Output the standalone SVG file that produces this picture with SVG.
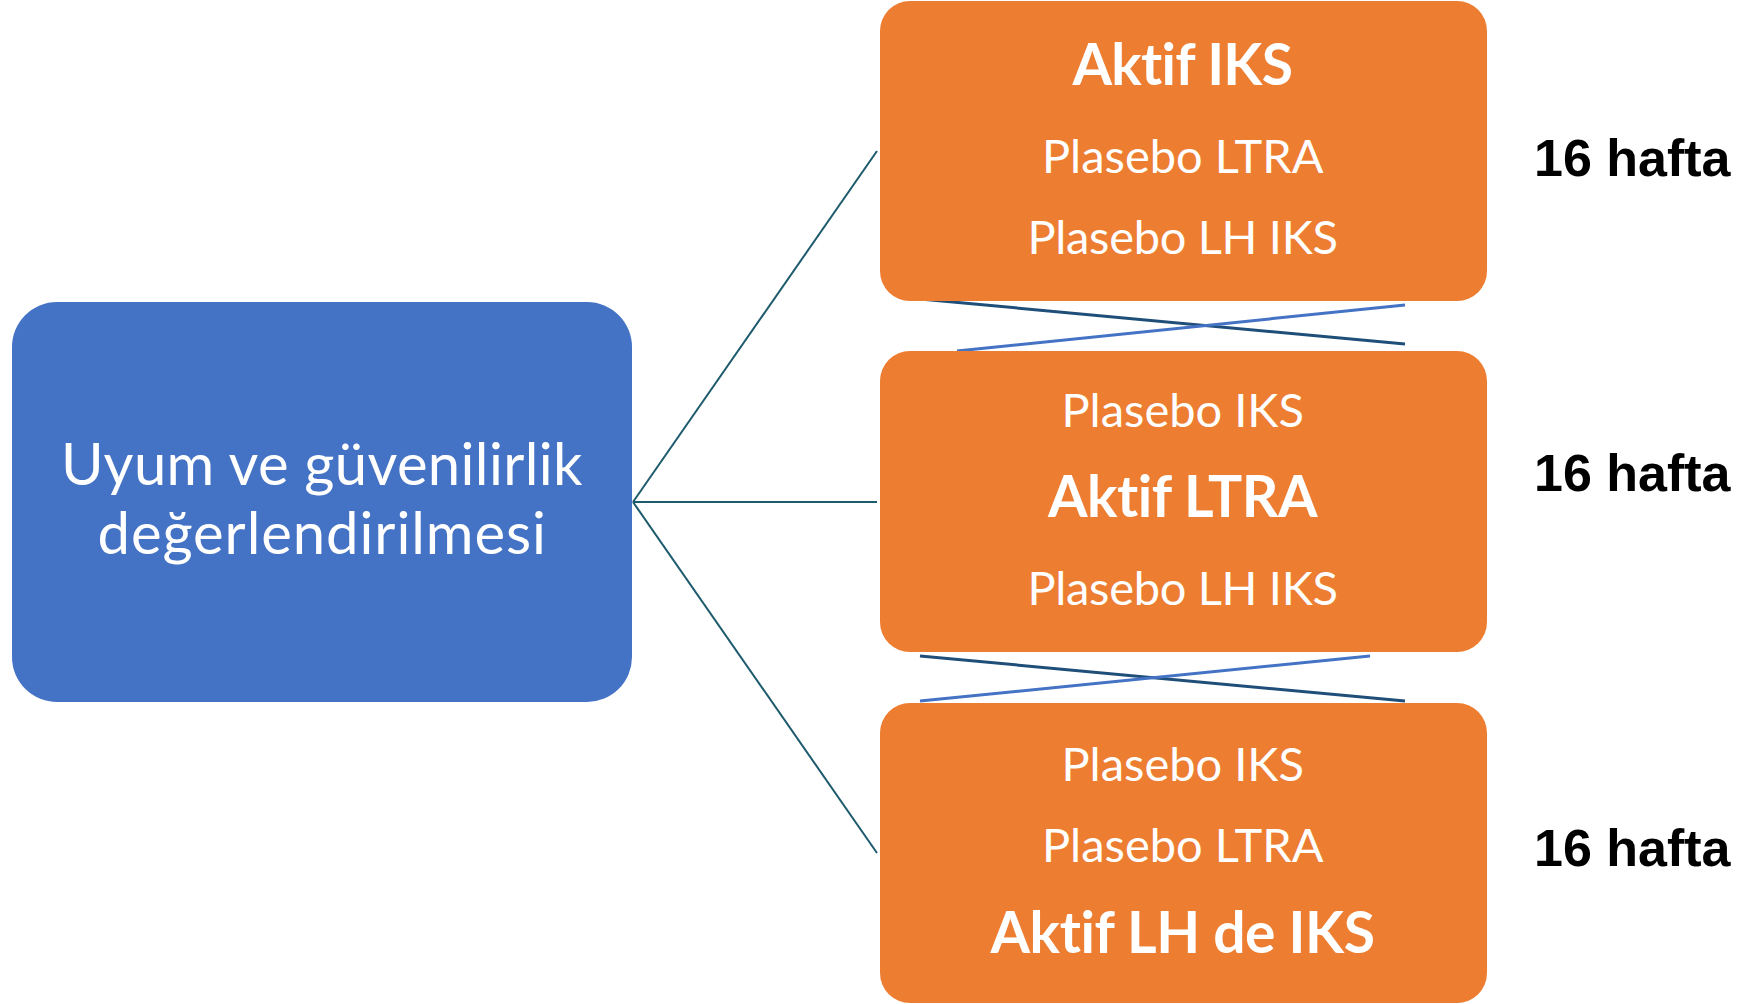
<svg xmlns="http://www.w3.org/2000/svg" width="1749" height="1004" viewBox="0 0 1749 1004">
<style>
.blue{fill:#4472C4}
.orange{fill:#ED7D31}
.t{font-family:Lato,"Open Sans","Liberation Sans",sans-serif;fill:#fff;text-anchor:middle;font-variant-ligatures:none;font-feature-settings:"liga" 0,"clig" 0;letter-spacing:0.5px}
.r{font-size:47px}
.b{font-size:57px;font-weight:bold}
.m{font-size:58px}
.w{font-family:"Liberation Sans",Arial,sans-serif;font-weight:bold;font-size:52px;fill:#000}
.c{stroke:#1D5A6C;stroke-width:2;fill:none}
.xd{stroke:#1F4E79;stroke-width:3;fill:none}
.xb{stroke:#4472C4;stroke-width:3;fill:none}
</style>
<rect width="1749" height="1004" fill="#fff"/>
<g id="connectors">
<line class="c" x1="633" y1="502" x2="877" y2="151"/>
<line class="c" x1="633" y1="502" x2="877" y2="502"/>
<line class="c" x1="633" y1="502" x2="877" y2="853"/>
<line class="xd" x1="920" y1="299" x2="1405" y2="344"/>
<line class="xb" x1="957" y1="351" x2="1405" y2="305"/>
<line class="xd" x1="920" y1="656" x2="1405" y2="701"/>
<line class="xb" x1="920" y1="701" x2="1370" y2="656"/>
</g>
<g id="node-main">
<rect class="blue" x="12" y="302" width="620" height="400" rx="45"/>
<text class="t m" x="322" y="485" textLength="522">Uyum ve güvenilirlik</text>
<text class="t m" x="322" y="554" textLength="449">değerlendirilmesi</text>
</g>
<g id="node-iks">
<rect class="orange" x="880" y="1" width="607" height="300" rx="30"/>
<text class="t b" x="1183" y="85" textLength="221">Aktif IKS</text>
<text class="t r" x="1183" y="173" textLength="282">Plasebo LTRA</text>
<text class="t r" x="1183" y="254" textLength="311">Plasebo LH IKS</text>
</g>
<g id="node-ltra">
<rect class="orange" x="880" y="351" width="607" height="301" rx="30"/>
<text class="t r" x="1183" y="427" textLength="243">Plasebo IKS</text>
<text class="t b" x="1183" y="517" textLength="270">Aktif LTRA</text>
<text class="t r" x="1183" y="605" textLength="311">Plasebo LH IKS</text>
</g>
<g id="node-lhiks">
<rect class="orange" x="880" y="703" width="607" height="300" rx="30"/>
<text class="t r" x="1183" y="781" textLength="243">Plasebo IKS</text>
<text class="t r" x="1183" y="862" textLength="282">Plasebo LTRA</text>
<text class="t b" x="1183" y="953" textLength="385">Aktif LH de IKS</text>
</g>
<g id="labels">
<text class="w" x="1534" y="176">16 hafta</text>
<text class="w" x="1534" y="491">16 hafta</text>
<text class="w" x="1534" y="866">16 hafta</text>
</g>
</svg>
